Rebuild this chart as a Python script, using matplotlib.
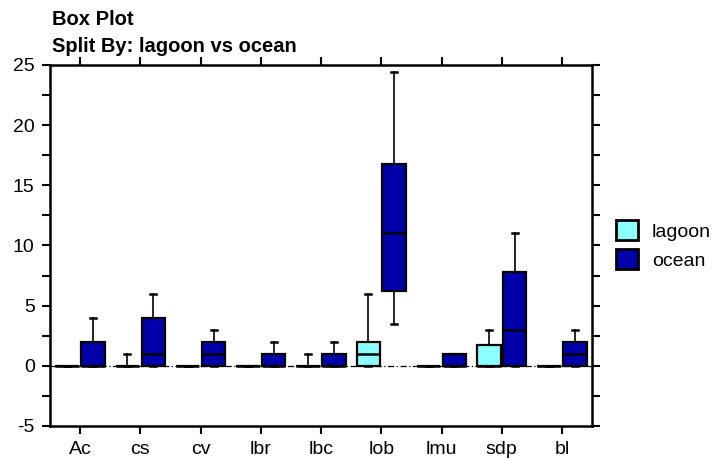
import matplotlib
matplotlib.use("Agg")
import matplotlib.pyplot as plt
from matplotlib.patches import Patch
from matplotlib.ticker import MultipleLocator

plt.rcParams['font.family'] = ['Liberation Sans', 'DejaVu Sans']
plt.rcParams['axes.unicode_minus'] = False

# categories and box statistics
categories = ["Ac", "cs", "cv", "lbr", "lbc", "lob", "lmu", "sdp", "bl"]

lagoon_q1 = [0, 0, 0, 0, 0, 0, 0, 0, 0]
lagoon_med = [0, 0, 0, 0, 0, 1, 0, 0, 0]
lagoon_q3 = [0, 0, 0, 0, 0, 2, 0, 1.75, 0]
lagoon_lo = [0, 0, 0, 0, 0, 0, 0, 0, 0]
lagoon_hi = [0, 1, 0, 0, 1, 6, 0, 3, 0]

ocean_q1 = [0, 0, 0, 0, 0, 6.25, 0, 0, 0]
ocean_med = [0, 1, 1, 0, 0, 11, 0, 3, 1]
ocean_q3 = [2, 4, 2, 1, 1, 16.75, 1, 7.8, 2]
ocean_lo = [0, 0, 0, 0, 0, 3.45, 0, 0, 0]
ocean_hi = [4, 6, 3, 2, 2, 24.4, 1, 11, 3]

groups = ["lagoon", "ocean"]
colours = {"lagoon": "#8CFFFF", "ocean": "#0000AA"}


def make_stats(q1, med, q3, lo, hi):
    out = []
    for i in range(len(q1)):
        out.append({"q1": q1[i], "med": med[i], "q3": q3[i],
                    "whislo": lo[i], "whishi": hi[i], "fliers": []})
    return out


fig = plt.figure(figsize=(7.19, 4.59), dpi=100)
ax = fig.add_axes([0.0695, 0.072, 0.754, 0.7865])

ax.axhline(0, color="black", lw=0.9, ls=(0, (5, 2, 1, 2)), zorder=1)

data = {
    "lagoon": make_stats(lagoon_q1, lagoon_med, lagoon_q3, lagoon_lo, lagoon_hi),
    "ocean": make_stats(ocean_q1, ocean_med, ocean_q3, ocean_lo, ocean_hi),
}
offsets = {"lagoon": -0.215, "ocean": 0.215}
x = list(range(1, len(categories) + 1))

for g in groups:
    pos = [xi + offsets[g] for xi in x]
    ax.bxp(data[g], positions=pos, widths=0.39, patch_artist=True,
           showfliers=False, manage_ticks=False, capwidths=0.1,
           boxprops=dict(facecolor=colours[g], edgecolor="black", linewidth=1.6),
           medianprops=dict(color="black", linewidth=1.8),
           whiskerprops=dict(color="black", linewidth=1.2),
           capprops=dict(color="black", linewidth=1.8),
           zorder=3)

ax.set_xlim(0.5, 9.5)
ax.set_ylim(-5, 25)
ax.set_xticks(x)
ax.set_xticklabels(categories)
ax.yaxis.set_major_locator(MultipleLocator(5))
ax.yaxis.set_minor_locator(MultipleLocator(2.5))
ax.tick_params(axis="both", which="both", direction="out", length=6, width=1.5,
               labelsize=14, top=True, right=True)
ax.tick_params(axis="x", pad=5)
ax.tick_params(axis="y", pad=5)
for s in ax.spines.values():
    s.set_linewidth(1.8)

fig.text(0.072, 0.957, "Box Plot", fontsize=14.5, fontweight="bold", va="center")
fig.text(0.072, 0.898, "Split By: lagoon vs ocean", fontsize=14.5,
         fontweight="bold", va="center")

handles = [Patch(facecolor=colours[g], edgecolor="black", linewidth=2, label=g)
           for g in groups]
fig.legend(handles=handles, loc="center left", bbox_to_anchor=(0.843, 0.466),
           frameon=False, fontsize=14, handlelength=1.15, handleheight=1.15,
           handletextpad=0.7, labelspacing=0.45, borderpad=0)

fig.savefig("out.png", dpi=100)
